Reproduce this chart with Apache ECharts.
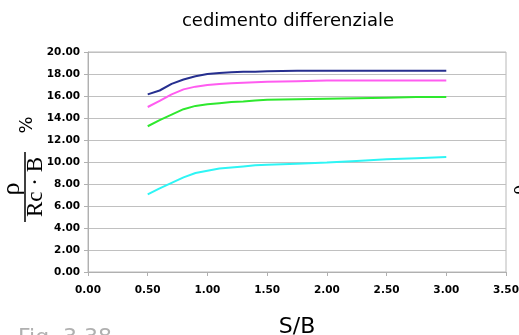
<!DOCTYPE html>
<html><head><meta charset="utf-8">
<script src="https://cdn.jsdelivr.net/npm/echarts@6/dist/echarts.min.js"></script>
<style>html,body{margin:0;padding:0;background:#fff}#c{width:519px;height:335px}</style>
</head><body><div id="c"></div>
<script>
var sb = [0.5,0.6,0.7,0.8,0.9,1.0,1.1,1.2,1.3,1.4,1.5,1.75,2.0,2.25,2.5,2.75,3.0];
var serieBlu =     [16.15,16.5,17.1,17.5,17.8,18.0,18.1,18.15,18.2,18.2,18.25,18.3,18.3,18.3,18.3,18.3,18.3];
var serieMagenta = [15.0,15.55,16.15,16.6,16.85,17.0,17.1,17.15,17.2,17.25,17.3,17.35,17.4,17.4,17.4,17.4,17.4];
var serieVerde =   [13.25,13.8,14.3,14.8,15.1,15.25,15.35,15.45,15.5,15.6,15.65,15.7,15.75,15.8,15.85,15.9,15.9];
var serieCiano =   [7.05,7.6,8.1,8.6,9.0,9.2,9.4,9.5,9.6,9.7,9.75,9.85,9.95,10.1,10.25,10.35,10.45];
var titolo = 'cedimento differenziale';
var nomeX = 'S/B';

function pairs(v){ return sb.map(function(x,i){return [x,v[i]];}); }
var chart = echarts.init(document.getElementById('c'));
var tickLabel = {color:'#000', fontFamily:'DejaVu Sans', fontWeight:'bold', fontSize:10.5,
  formatter:function(v){return v.toFixed(2);}};
function line(name,data,color){
  return {name:name,type:'line',data:pairs(data),showSymbol:false,symbol:'none',
    lineStyle:{color:color,width:2},smooth:false,animation:false};
}
chart.setOption({
  animation:false,
  title:{text:titolo,left:283,textAlign:'center',top:7,
    textStyle:{fontFamily:'DejaVu Sans',fontWeight:'normal',fontSize:18,color:'#000'}},
  grid:{left:88,right:13,top:52,bottom:63,show:true,borderColor:'#b8b8b8',borderWidth:1,
    containLabel:false,outerBoundsMode:'none'},
  xAxis:{type:'value',min:0,max:3.5,interval:0.5,
    name:nomeX,nameLocation:'middle',nameGap:44,
    nameTextStyle:{fontFamily:'DejaVu Sans',fontSize:22,color:'#000'},
    axisLine:{show:true,lineStyle:{color:'#b0b0b0'}},
    axisTick:{show:true,length:4,lineStyle:{color:'#b0b0b0'}},
    axisLabel:Object.assign({margin:13},tickLabel),
    splitLine:{show:false}},
  yAxis:{type:'value',min:0,max:20,interval:2,
    axisLine:{show:true,lineStyle:{color:'#b0b0b0'}},
    axisTick:{show:true,length:4,lineStyle:{color:'#b0b0b0'}},
    axisLabel:Object.assign({margin:8},tickLabel),
    splitLine:{show:true,lineStyle:{color:'#c0c0c0',width:1}}},
  series:[
    line('a',serieBlu,'#262f8f'),
    line('b',serieMagenta,'#ff5cf0'),
    line('c',serieVerde,'#2ee82e'),
    line('d',serieCiano,'#2ef5f5')
  ],
  graphic:[
    {type:'text',x:12,y:189,rotation:Math.PI/2,style:{text:'ρ',font:'26px "Liberation Serif"',fill:'#000',textAlign:'center',textVerticalAlign:'middle'}},
    {type:'line',shape:{x1:25,y1:152,x2:25,y2:222},style:{stroke:'#000',lineWidth:1.5}},
    {type:'text',x:36,y:187,rotation:Math.PI/2,style:{text:'Rc · B',font:'23px "Liberation Serif"',fill:'#000',textAlign:'center',textVerticalAlign:'middle'}},
    {type:'text',x:27,y:125,rotation:Math.PI/2,style:{text:'%',font:'18px "DejaVu Sans"',fill:'#000',textAlign:'center',textVerticalAlign:'middle'}},
    {type:'text',x:519,y:190,rotation:Math.PI/2,style:{text:'ρ',font:'20px "Liberation Serif"',fill:'#000',textAlign:'center',textVerticalAlign:'middle'}},
    {type:'text',x:18,y:327,style:{text:'Fig. 3.38',font:'22px "DejaVu Sans"',fill:'#b0b0b0',textAlign:'left',textVerticalAlign:'top'}}
  ]
});
</script></body></html>
